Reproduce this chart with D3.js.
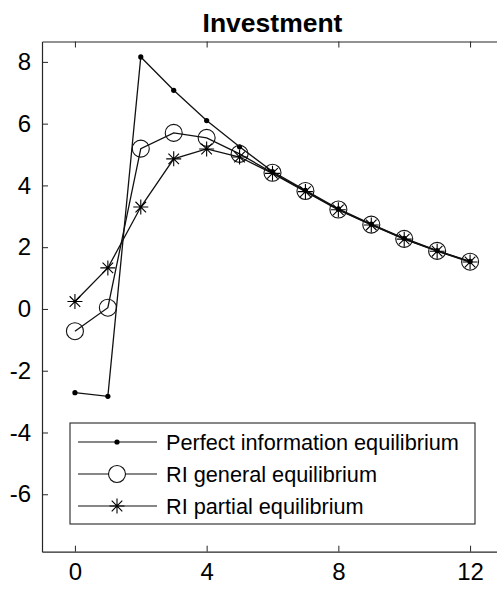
<!DOCTYPE html>
<html>
<head>
<meta charset="utf-8">
<script src="https://cdn.jsdelivr.net/npm/d3@7"></script>
<style>
  html, body { margin: 0; padding: 0; background: #fff; }
  svg { display: block; }
  text { font-family: "Liberation Sans", Arial, Helvetica, sans-serif; }
</style>
</head>
<body>
<svg id="chart" width="497" height="590"></svg>
<script>
const periods = [0, 1, 2, 3, 4, 5, 6, 7, 8, 9, 10, 11, 12];
const perfectInfo = [-2.71, -2.83, 8.16, 7.08, 6.10, 5.25, 4.45, 3.84, 3.24, 2.75, 2.29, 1.89, 1.54];
const riGeneral   = [-0.72, 0.04, 5.19, 5.70, 5.54, 5.02, 4.41, 3.82, 3.22, 2.73, 2.27, 1.88, 1.53];
const riPartial   = [0.24, 1.33, 3.30, 4.86, 5.18, 4.92, 4.39, 3.80, 3.21, 2.72, 2.26, 1.87, 1.52];
const xTicks = [0, 4, 8, 12];
const yTicks = [-6, -4, -2, 0, 2, 4, 6, 8];
const seriesNames = ["Perfect information equilibrium", "RI general equilibrium", "RI partial equilibrium"];
const titleText = "Investment";

const svg = d3.select("#chart");
const ink = "#262626";
const x = d3.scaleLinear().domain([-1, 13]).range([42, 503]);
const y = d3.scaleLinear().domain([-7.86, 8.66]).range([551.7, 41.5]);

const g = svg.append("g");
svg.append("text").attr("x", (x.range()[0] + x.range()[1]) / 2).attr("y", 32)
  .attr("text-anchor", "middle").attr("font-weight", "bold").attr("font-size", 26.5)
  .attr("fill", "#000").text(titleText);

const fmt = d => String(d);
const xAxisBottom = d3.axisBottom(x).tickValues(xTicks).tickFormat(fmt).tickSize(-6).tickPadding(11).tickSizeOuter(0);
const xAxisTop = d3.axisTop(x).tickValues(xTicks).tickSize(-6).tickFormat("").tickSizeOuter(0);
const yAxisLeft = d3.axisLeft(y).tickValues(yTicks).tickFormat(fmt).tickSize(-6).tickPadding(11).tickSizeOuter(0);
const yAxisRight = d3.axisRight(y).tickValues(yTicks).tickSize(-6).tickFormat("").tickSizeOuter(0);

function style(sel) {
  sel.selectAll("path.domain").attr("stroke", ink).attr("stroke-width", 1.2);
  sel.selectAll(".tick line").attr("stroke", ink).attr("stroke-width", 1);
  sel.selectAll(".tick text").attr("fill", "#000").attr("font-size", 24)
    .attr("font-family", "'Liberation Sans', Arial, sans-serif");
}
g.append("g").attr("transform", `translate(0,${y.range()[0]})`).call(xAxisBottom).call(style);
g.append("g").attr("transform", `translate(0,${y.range()[1]})`).call(xAxisTop).call(style);
g.append("g").attr("transform", `translate(${x.range()[0]},0)`).call(yAxisLeft).call(style);
g.append("g").attr("transform", `translate(${x.range()[1]},0)`).call(yAxisRight).call(style);

const line = d3.line().x((d, i) => x(periods[i])).y(d => y(d));
const plot = svg.append("g");

function drawStar(sel, cx, cy) {
  const a = 7.5, b = 5.3;
  const p = `M${cx - a},${cy}L${cx + a},${cy}M${cx},${cy - a}L${cx},${cy + a}` +
            `M${cx - b},${cy - b}L${cx + b},${cy + b}M${cx - b},${cy + b}L${cx + b},${cy - b}`;
  sel.append("path").attr("d", p).attr("stroke", "#000").attr("stroke-width", 1.1).attr("fill", "none");
}

const series = [
  { values: perfectInfo, marker: "dot" },
  { values: riGeneral, marker: "circle" },
  { values: riPartial, marker: "star" }
];

series.forEach(s => {
  plot.append("path").datum(s.values).attr("d", line)
    .attr("fill", "none").attr("stroke", "#111").attr("stroke-width", 1.3);
});
series.forEach(s => {
  s.values.forEach((v, i) => {
    const cx = x(periods[i]), cy = y(v);
    if (s.marker === "dot") {
      plot.append("circle").attr("cx", cx).attr("cy", cy).attr("r", 2.6).attr("fill", "#000");
    } else if (s.marker === "circle") {
      plot.append("circle").attr("cx", cx).attr("cy", cy).attr("r", 8.5)
        .attr("fill", "none").attr("stroke", "#111").attr("stroke-width", 1.1);
    } else {
      drawStar(plot, cx, cy);
    }
  });
});

const lg = svg.append("g");
lg.append("rect").attr("x", 70).attr("y", 423).attr("width", 405).attr("height", 101)
  .attr("fill", "#fff").attr("stroke", ink).attr("stroke-width", 1.1);
const legendY = [442, 474, 506];
seriesNames.forEach((name, i) => {
  const ly = legendY[i];
  lg.append("line").attr("x1", 78).attr("x2", 157).attr("y1", ly).attr("y2", ly)
    .attr("stroke", "#111").attr("stroke-width", 1.2);
  const m = series[i].marker;
  if (m === "dot") lg.append("circle").attr("cx", 117).attr("cy", ly).attr("r", 2.6).attr("fill", "#000");
  else if (m === "circle") lg.append("circle").attr("cx", 117).attr("cy", ly).attr("r", 8.5)
    .attr("fill", "#fff").attr("stroke", "#111").attr("stroke-width", 1.1);
  else drawStar(lg, 117, ly);
  lg.append("text").attr("x", 166).attr("y", ly).attr("dy", "0.36em")
    .attr("font-size", 21.7).attr("fill", "#000").text(name);
});
</script>
</body>
</html>
